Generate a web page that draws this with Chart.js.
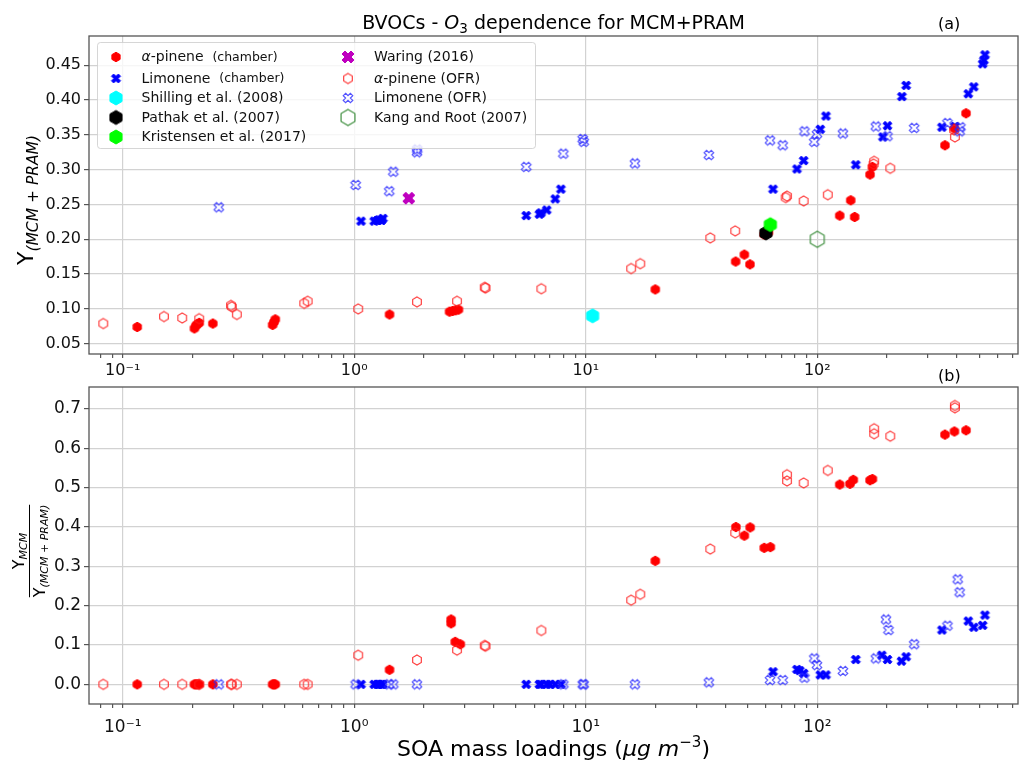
<!DOCTYPE html>
<html>
<head>
<meta charset="utf-8">
<script src="https://cdn.jsdelivr.net/npm/chart.js@4.4.1/dist/chart.umd.min.js"></script>
<style>
  body { margin: 0; background: #fff; }
  #wrap { position: relative; width: 1019px; height: 762px; }
  #wrap canvas { position: absolute; left: 0; }
</style>
</head>
<body>
<div id="wrap">
  <canvas id="topChart" width="1019" height="385" style="top:0"></canvas>
  <canvas id="bottomChart" width="1019" height="400" style="top:362px"></canvas>
</div>
<script>
// ---------- axes ----------
const xMin = 0.0715;
const xMax = 736;
const xMajorTicks = [0.1, 1, 10, 100];
const xMajorLabels = ["10⁻¹", "10⁰", "10¹", "10²"];
const xMinorTicks = [0.08, 0.09, 0.2, 0.3, 0.4, 0.5, 0.6, 0.7, 0.8, 0.9,
  2, 3, 4, 5, 6, 7, 8, 9, 20, 30, 40, 50, 60, 70, 80, 90, 200, 300, 400, 500, 600, 700];
const yTicksTop = [0.05, 0.10, 0.15, 0.20, 0.25, 0.30, 0.35, 0.40, 0.45];
const yTicksBottom = [0.0, 0.1, 0.2, 0.3, 0.4, 0.5, 0.6, 0.7];

// ---------- panel (a): Y(MCM+PRAM) vs SOA loading, [x, y] ----------
const apChamberA = [
  [0.1155, 0.074], [0.204, 0.072], [0.207, 0.076], [0.21, 0.078], [0.214, 0.080],
  [0.245, 0.079], [0.444, 0.077], [0.45, 0.081], [0.456, 0.085], [1.42, 0.092],
  [2.58, 0.096], [2.66, 0.097], [2.74, 0.098], [2.82, 0.099], [19.96, 0.128],
  [44.4, 0.168], [48.4, 0.178], [51.2, 0.164], [59.0, 0.207], [61.5, 0.210],
  [125, 0.234], [139.4, 0.256], [145, 0.232], [169, 0.293], [173, 0.304],
  [356, 0.335], [391, 0.359], [439, 0.381]
];
const limChamberA = [
  [1.07, 0.226], [1.22, 0.226], [1.26, 0.227], [1.28, 0.228], [1.31, 0.227], [1.33, 0.230],
  [5.53, 0.234], [6.3, 0.236], [6.41, 0.238], [6.78, 0.242], [7.38, 0.258], [7.81, 0.272],
  [64.4, 0.272], [81.7, 0.301], [87.3, 0.313], [103, 0.358], [109, 0.377], [146.6, 0.307],
  [192, 0.347], [201, 0.363], [232, 0.405], [242, 0.421], [345.6, 0.361], [393, 0.362],
  [449, 0.409], [474, 0.419], [518, 0.452], [524, 0.457], [530, 0.465]
];
const apOfrA = [
  [0.0824, 0.079], [0.1507, 0.089], [0.1807, 0.087], [0.214, 0.086], [0.2935, 0.105],
  [0.296, 0.103], [0.311, 0.092], [0.608, 0.108], [0.629, 0.111], [1.04, 0.100],
  [1.866, 0.110], [2.78, 0.111], [3.66, 0.131], [3.69, 0.130], [6.43, 0.129],
  [15.7, 0.158], [17.2, 0.165], [34.5, 0.202], [44.2, 0.212], [73, 0.260], [74, 0.262],
  [87.3, 0.255], [111, 0.264], [175, 0.308], [176, 0.312], [206.6, 0.302],
  [390, 0.357], [393, 0.347]
];
const limOfrA = [
  [0.26, 0.246], [1.014, 0.278], [1.416, 0.269], [1.474, 0.297], [1.866, 0.325], [1.87, 0.329],
  [5.53, 0.304], [8.0, 0.323], [9.7, 0.344], [9.8, 0.340], [16.3, 0.309], [34.0, 0.321],
  [62.5, 0.342], [70.9, 0.335], [88, 0.355], [97, 0.340], [99.7, 0.351], [129, 0.352],
  [179, 0.362], [201, 0.348], [262, 0.360], [365, 0.367], [412, 0.355], [415, 0.361]
];
const shillingA = [[10.7, 0.090]];
const pathakA = [[60, 0.209]];
const kristensenA = [[62.7, 0.221]];
const waringA = [[1.72, 0.259]];
const kangA = [[100, 0.200]];

// ---------- panel (b): Y_MCM / Y(MCM+PRAM), [x, y] ----------
const apChamberB = [
  [0.1155, 0], [0.204, 0], [0.207, 0], [0.21, 0], [0.214, 0], [0.245, 0],
  [0.444, 0], [0.45, 0], [0.456, 0], [1.42, 0.037], [2.62, 0.165], [2.62, 0.155],
  [2.73, 0.108], [2.87, 0.102], [19.96, 0.314], [44.5, 0.400], [48.4, 0.378],
  [51.3, 0.399], [59, 0.347], [62.7, 0.349], [125, 0.508], [138.4, 0.510], [143, 0.520],
  [169, 0.519], [173, 0.522], [356, 0.635], [391, 0.643], [439, 0.646]
];
const limChamberB = [
  [1.07, 0], [1.22, 0], [1.26, 0], [1.28, 0], [1.31, 0], [1.33, 0],
  [5.53, 0], [6.3, 0], [6.41, 0], [6.78, 0], [7.0, 0], [7.38, 0], [7.81, 0],
  [64.4, 0.032], [81.7, 0.038], [84, 0.035], [87.3, 0.028], [103, 0.024], [109, 0.024],
  [146.6, 0.063], [190, 0.074], [201, 0.063], [231, 0.059], [242, 0.070],
  [345.6, 0.138], [449, 0.161], [474, 0.145], [518, 0.150], [530, 0.176]
];
const apOfrB = [
  [0.0824, 0], [0.1507, 0], [0.1807, 0], [0.214, 0], [0.2935, 0], [0.296, 0],
  [0.311, 0], [0.608, 0], [0.629, 0], [1.04, 0.074], [1.866, 0.062], [2.78, 0.087],
  [3.66, 0.099], [3.69, 0.097], [6.43, 0.137], [15.7, 0.214], [17.2, 0.229],
  [34.5, 0.344], [44.2, 0.385], [74, 0.533], [74, 0.517], [87.3, 0.512], [111, 0.544],
  [176, 0.650], [176, 0.637], [206.6, 0.631], [393, 0.709], [393, 0.703]
];
const limOfrB = [
  [0.26, 0], [1.014, 0], [1.416, 0], [1.474, 0], [1.866, 0], [8.0, 0], [9.7, 0], [9.8, 0],
  [16.3, 0], [34.0, 0.005], [62.5, 0.011], [70.9, 0.011], [88, 0.017], [97, 0.066],
  [99.7, 0.049], [129, 0.034], [179, 0.066], [198, 0.165], [203, 0.138], [262, 0.102],
  [365, 0.149], [404, 0.267], [412, 0.234]
];

const legendLabels = [
  "α-pinene (chamber)", "Limonene (chamber)", "Shilling et al. (2008)",
  "Pathak et al. (2007)", "Kristensen et al. (2017)", "Waring (2016)",
  "α-pinene (OFR)", "Limonene (OFR)", "Kang and Root (2007)"
];

// ---------- styling ----------
const FONT = "DejaVu Sans";
const gridColor = "#d2d2d2";
const axisColor = "#555";
Chart.defaults.font.family = FONT;
Chart.defaults.color = "#111";

// matplotlib-like marker images
function hexMarker(d, fill, stroke, lw) {
  const pad = Math.ceil(lw) + 1;
  const c = document.createElement("canvas");
  c.width = c.height = Math.ceil(d) + 2 * pad;
  const g = c.getContext("2d");
  const cx = c.width / 2, r = d / 2;
  g.beginPath();
  for (let k = 0; k < 6; k++) {
    const a = -Math.PI / 2 + k * Math.PI / 3;
    g.lineTo(cx + r * Math.cos(a), cx + r * Math.sin(a));
  }
  g.closePath();
  if (fill) { g.fillStyle = fill; g.fill(); }
  if (stroke) { g.strokeStyle = stroke; g.lineWidth = lw; g.stroke(); }
  return c;
}

function xMarker(d, fill, stroke, lw) {
  const pad = Math.ceil(lw) + 1;
  const c = document.createElement("canvas");
  c.width = c.height = Math.ceil(d) + 2 * pad;
  const g = c.getContext("2d");
  const o = (c.width - d) / 2;
  const pts = [[0.25, 0], [0.5, 0.25], [0.75, 0], [1, 0.25], [0.75, 0.5], [1, 0.75],
    [0.75, 1], [0.5, 0.75], [0.25, 1], [0, 0.75], [0.25, 0.5], [0, 0.25]];
  g.beginPath();
  pts.forEach(([px, py]) => g.lineTo(o + px * d, o + py * d));
  g.closePath();
  if (fill) { g.fillStyle = fill; g.fill(); }
  if (stroke) { g.strokeStyle = stroke; g.lineWidth = lw; g.stroke(); }
  return c;
}

const markers = {
  apChamber: hexMarker(9.5, "#ff0000", "#ff0000", 1),
  limChamber: xMarker(9, "#0000ff", "#0000ff", 1),
  shilling: hexMarker(14, "#00ffff", "#00ffff", 1),
  pathak: hexMarker(14, "#000000", "#000000", 1),
  kristensen: hexMarker(14, "#00ff00", "#00ff00", 1),
  waring: xMarker(12, "#bf00bf", "#bf00bf", 1),
  apOfr: hexMarker(10, null, "rgba(255,30,30,0.85)", 1.2),
  limOfr: xMarker(9.5, null, "rgba(40,40,255,0.8)", 1.2),
  kang: hexMarker(16, null, "#3f8f3f", 1.2)
};

function scatterSet(points, marker, order) {
  return {
    data: points.map(([x, y]) => ({ x, y })),
    pointStyle: marker,
    pointRadius: 5,
    showLine: false,
    order
  };
}

// ---------- text helpers ----------
function segWidth(ctx, segs) {
  let w = 0;
  for (const [t, f] of segs) { ctx.font = f; w += ctx.measureText(t).width; }
  return w;
}
function drawSegs(ctx, segs, x, y) {
  for (const [t, f, dy] of segs) {
    ctx.font = f;
    ctx.fillText(t, x, y + (dy || 0));
    x += ctx.measureText(t).width;
  }
}
function drawSegsCentered(ctx, segs, cx, y) {
  drawSegs(ctx, segs, cx - segWidth(ctx, segs) / 2, y);
}

function legendParts(label) {
  const parts = [];
  let rest = label;
  if (rest.startsWith("α")) {
    parts.push(["α", `italic 14px ${FONT}`]);
    rest = rest.slice(1);
  }
  const k = rest.indexOf("(chamber)");
  if (k >= 0) {
    parts.push([rest.slice(0, k) + " ", `14px ${FONT}`]);
    parts.push(["(chamber)", `12.5px ${FONT}`]);
  } else {
    parts.push([rest, `14px ${FONT}`]);
  }
  return parts;
}

// ---------- scale builders ----------
function xScale(height, pad, fontSize) {
  return {
    type: "logarithmic",
    min: xMin,
    max: xMax,
    bounds: "data",
    afterBuildTicks: s => {
      s.ticks = xMajorTicks.concat(xMinorTicks).sort((a, b) => a - b).map(v => ({ value: v }));
    },
    afterFit: s => {
      s.height = height;
      s.paddingLeft = 0;
      s.paddingRight = 0;
    },
    ticks: {
      autoSkip: false,
      maxRotation: 0,
      padding: pad,
      font: { size: fontSize },
      callback: v => {
        const i = xMajorTicks.indexOf(v);
        return i >= 0 ? xMajorLabels[i] : "";
      }
    },
    grid: {
      color: ctx => (ctx.tick && xMajorTicks.includes(ctx.tick.value)) ? gridColor : "rgba(0,0,0,0)",
      tickColor: axisColor,
      tickLength: 4,
      lineWidth: 1.2
    },
    border: { display: false }
  };
}

function yScale(min, max, tickValues, digits, fontSize) {
  return {
    type: "linear",
    min,
    max,
    bounds: "data",
    afterBuildTicks: s => { s.ticks = tickValues.map(v => ({ value: v })); },
    afterFit: s => {
      s.width = 89;
      s.paddingTop = 0;
      s.paddingBottom = 0;
    },
    ticks: {
      padding: 3,
      font: { size: fontSize },
      callback: v => v.toFixed(digits)
    },
    grid: { color: gridColor, tickColor: axisColor, tickLength: 5, lineWidth: 1.2 },
    border: { display: false }
  };
}

function frame(chart) {
  const { ctx, chartArea: a } = chart;
  ctx.save();
  ctx.strokeStyle = axisColor;
  ctx.lineWidth = 1.3;
  ctx.strokeRect(a.left, a.top, a.right - a.left, a.bottom - a.top);
  ctx.restore();
}

// ---------- decorations ----------
const topDecor = {
  id: "topDecor",
  afterDatasetsDraw(chart) {
    const ctx = chart.ctx;
    ctx.save();
    // legend box
    ctx.fillStyle = "rgba(255,255,255,0.8)";
    ctx.strokeStyle = "rgba(204,204,204,0.8)";
    ctx.lineWidth = 1;
    ctx.beginPath();
    ctx.roundRect(97.5, 42.5, 438, 106, 3);
    ctx.fill();
    ctx.stroke();
    const keys = ["apChamber", "limChamber", "shilling", "pathak", "kristensen",
      "waring", "apOfr", "limOfr", "kang"];
    const rowY = [57, 78.5, 98, 117.5, 137];
    ctx.fillStyle = "#111";
    ctx.textBaseline = "middle";
    keys.forEach((key, i) => {
      const col = i < 5 ? 0 : 1;
      const row = i < 5 ? i : i - 5;
      const mx = col === 0 ? 116 : 348;
      const tx = col === 0 ? 141.5 : 374;
      const m = markers[key];
      ctx.drawImage(m, mx - m.width / 2, rowY[row] - m.height / 2);
      drawSegs(ctx, legendParts(legendLabels[i]), tx, rowY[row] + 0.5);
    });
    ctx.restore();
  },
  afterDraw(chart) {
    const ctx = chart.ctx;
    frame(chart);
    ctx.save();
    ctx.fillStyle = "#000";
    ctx.textBaseline = "alphabetic";
    drawSegsCentered(ctx, [
      ["BVOCs - ", `19px ${FONT}`],
      ["O", `italic 19px ${FONT}`],
      ["3", `13.5px ${FONT}`, 4],
      [" dependence for MCM+PRAM", `19px ${FONT}`]
    ], 553.5, 29);
    ctx.font = `16px ${FONT}`;
    ctx.fillText("(a)", 938, 29);
    ctx.fillText("(b)", 938, 381);
    ctx.translate(33, 200);
    ctx.rotate(-Math.PI / 2);
    drawSegsCentered(ctx, [
      ["Y", `22px ${FONT}`],
      ["(MCM + PRAM)", `italic 15.5px ${FONT}`, 4.5]
    ], 0, 0);
    ctx.restore();
  }
};

const bottomDecor = {
  id: "bottomDecor",
  afterDraw(chart) {
    const ctx = chart.ctx;
    frame(chart);
    ctx.save();
    ctx.fillStyle = "#000";
    ctx.textBaseline = "alphabetic";
    drawSegsCentered(ctx, [
      ["SOA mass loadings (", `22px ${FONT}`],
      ["μg", `italic 22px ${FONT}`],
      [" ", `22px ${FONT}`],
      ["m", `italic 22px ${FONT}`],
      ["−3", `15px ${FONT}`, -9],
      [")", `22px ${FONT}`]
    ], 553.5, 394);
    // fraction label
    ctx.translate(29.5, 189);
    ctx.rotate(-Math.PI / 2);
    const num = [["Y", `16px ${FONT}`], ["MCM", `italic 11px ${FONT}`, 3]];
    const den = [["Y", `16px ${FONT}`], ["(MCM + PRAM)", `italic 11px ${FONT}`, 3.5]];
    drawSegsCentered(ctx, num, 0, -5.5);
    drawSegsCentered(ctx, den, 0, 15);
    const w = segWidth(ctx, den);
    ctx.strokeStyle = "#000";
    ctx.lineWidth = 1;
    ctx.beginPath();
    ctx.moveTo(-w / 2, 0);
    ctx.lineTo(w / 2, 0);
    ctx.stroke();
    ctx.restore();
  }
};

const drawOrder = ["limChamber", "apChamber", "apOfr", "limOfr",
  "shilling", "pathak", "kristensen", "waring", "kang"];
const ord = key => drawOrder.length - drawOrder.indexOf(key);

const baseOptions = {
  responsive: false,
  maintainAspectRatio: false,
  animation: false,
  events: [],
  plugins: { legend: { display: false }, tooltip: { enabled: false } }
};

new Chart(document.getElementById("topChart").getContext("2d"), {
  type: "scatter",
  data: {
    datasets: [
      scatterSet(limChamberA, markers.limChamber, ord("limChamber")),
      scatterSet(apChamberA, markers.apChamber, ord("apChamber")),
      scatterSet(apOfrA, markers.apOfr, ord("apOfr")),
      scatterSet(limOfrA, markers.limOfr, ord("limOfr")),
      scatterSet(shillingA, markers.shilling, ord("shilling")),
      scatterSet(pathakA, markers.pathak, ord("pathak")),
      scatterSet(kristensenA, markers.kristensen, ord("kristensen")),
      scatterSet(waringA, markers.waring, ord("waring")),
      scatterSet(kangA, markers.kang, ord("kang"))
    ]
  },
  options: {
    ...baseOptions,
    layout: { autoPadding: false, padding: { top: 36, right: 1, left: 0, bottom: 0 } },
    scales: {
      x: xScale(31, 3, 16),
      y: yScale(0.0352, 0.492, yTicksTop, 2, 16)
    }
  },
  plugins: [topDecor]
});

new Chart(document.getElementById("bottomChart").getContext("2d"), {
  type: "scatter",
  data: {
    datasets: [
      scatterSet(limChamberB, markers.limChamber, ord("limChamber")),
      scatterSet(apChamberB, markers.apChamber, ord("apChamber")),
      scatterSet(apOfrB, markers.apOfr, ord("apOfr")),
      scatterSet(limOfrB, markers.limOfr, ord("limOfr"))
    ]
  },
  options: {
    ...baseOptions,
    layout: { autoPadding: false, padding: { top: 25, right: 1, left: 0, bottom: 0 } },
    scales: {
      x: xScale(58, 9, 17),
      y: yScale(-0.05, 0.756, yTicksBottom, 1, 17)
    }
  },
  plugins: [bottomDecor]
});
</script>
</body>
</html>
